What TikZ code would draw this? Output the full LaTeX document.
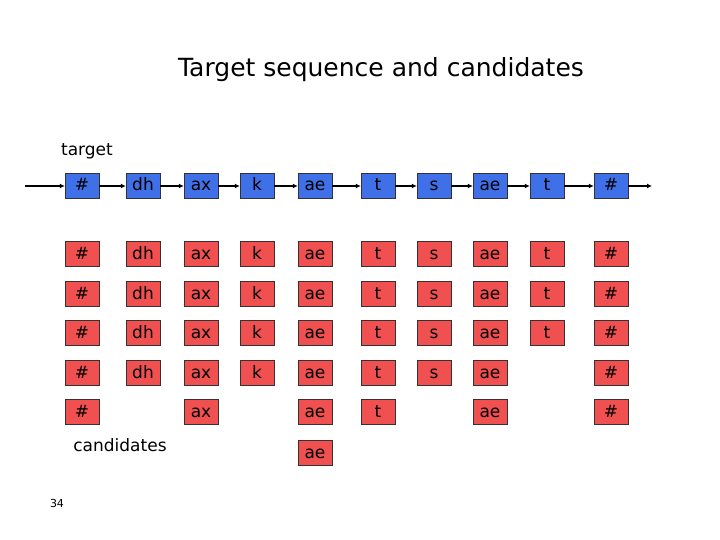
\documentclass[tikz,border=0pt]{standalone}
\usepackage{fontspec}
\setmainfont{DejaVu Sans}
\usetikzlibrary{arrows.meta}
\begin{document}
\begin{tikzpicture}[x=1pt,y=-1pt,
 cell/.style={draw=black!80,minimum width=34pt,minimum height=25pt,inner sep=0pt,text height=12pt,text depth=2pt,font=\fontsize{17}{17}\selectfont},
 tcell/.style={cell,fill={rgb,255:red,64;green,112;blue,232}},
 ccell/.style={cell,fill={rgb,255:red,240;green,80;blue,80}},
 link/.style={draw=black,line width=1.3pt,-{Latex[length=5pt,width=5pt]}}]
\useasboundingbox (0,0) rectangle (720,540);
\node[font=\fontsize{25}{25}\selectfont] (title) at (381,70) {Target sequence and candidates};
\node[font=\fontsize{17}{17}\selectfont] (tl) at (87,151) {target};
\node[font=\fontsize{17}{17}\selectfont] (cl) at (120,445) {candidates};
\node[font=\fontsize{11}{11}\selectfont] (pg) at (57,503) {34};
\def\xs{{82,143,201,257,315,378,434,490,547,611}}
\def\labs{{"\#","dh","ax","k","ae","t","s","ae","t","\#"}}
\foreach \i in {0,...,9}{
  \pgfmathsetmacro\xx{\xs[\i]}
  \pgfmathsetmacro\ll{\labs[\i]}
  \node[tcell] (t\i) at (\xx,186) {\ll};
}
\coordinate (s) at (25,186);
\coordinate (e) at (652,186);
\draw[link] (s) -- (t0.west);
\foreach \i [evaluate=\i as \j using int(\i+1)] in {0,...,8}{\draw[link] (t\i.east) -- (t\j.west);}
\draw[link] (t9.east) -- (e);
\foreach \r/\yy/\cols in {1/254/{0,1,2,3,4,5,6,7,8,9},2/294/{0,1,2,3,4,5,6,7,8,9},3/333/{0,1,2,3,4,5,6,7,8,9},4/373/{0,1,2,3,4,5,6,7,9},5/412/{0,2,4,5,7,9},6/453/{4}}{
  \foreach \i in \cols{
    \pgfmathsetmacro\xx{\xs[\i]}
    \pgfmathsetmacro\ll{\labs[\i]}
    \node[ccell] (c\r-\i) at (\xx,\yy) {\ll};
  }
}
\end{tikzpicture}
\end{document}
